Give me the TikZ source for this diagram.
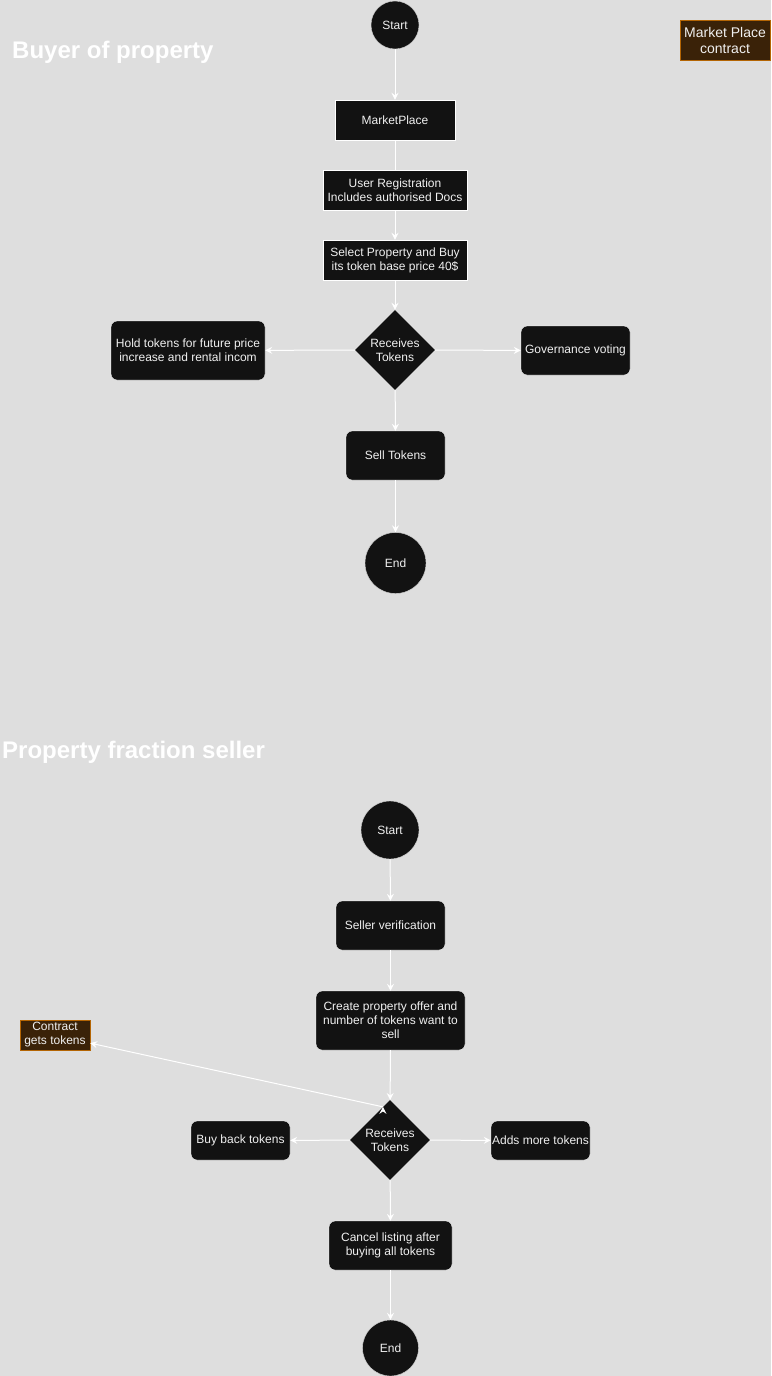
\documentclass[tikz,border=0pt]{standalone}
\usepackage{fontspec}
\setmainfont{Liberation Sans}
\usepackage{tikz}
\usetikzlibrary{shapes.geometric, positioning, arrows.meta}
\definecolor{canvas}{HTML}{DEDEDE}
\definecolor{ink}{HTML}{121212}
\definecolor{contractfill}{HTML}{3A2208}
\definecolor{contractline}{HTML}{B46504}
\tikzset{
->, % every connector is directed
>={Stealth[length=7pt, width=7pt, inset=2.5pt]}, % arrow heads
every node/.style={font=\fontsize{12}{14}\selectfont, text=white!94!black, align=center}, % small white text everywhere
terminal/.style={circle, draw=white!85!black, fill=ink, inner sep=0pt}, % start and end
plainbox/.style={rectangle, draw=white, fill=ink, inner sep=0pt, minimum height=40pt}, % square steps
roundbox/.style={plainbox, rounded corners=6pt}, % rounded steps
decision/.style={diamond, draw=none, fill=ink, inner sep=0pt, minimum size=80pt}, % receives tokens
contract/.style={rectangle, draw=contractline, fill=contractfill, inner sep=0pt}, % contract notes
heading/.style={font=\fontsize{24}{28}\selectfont\bfseries, text=white, anchor=west, inner sep=0pt}, % section titles
}

\begin{document}
\begin{tikzpicture}[x=1pt, y=-1pt]
    \fill[canvas, -] (0,0) rectangle (771,1376);
    \useasboundingbox (0,0) rectangle (771,1376);

    % buyer
    \node[heading] (buyer) at (12,52) {Buyer of property};
    \node[contract, minimum width=90pt, minimum height=40pt, font=\fontsize{14}{16}\selectfont] (mpcontract) at (725,40) {Market Place\\contract};
    \node[terminal, minimum size=48pt] (start1) at (395,25) {Start};
    \node[plainbox, minimum width=120pt] (market) at (395,120) {MarketPlace};
    \node[plainbox, minimum width=144pt] (register) at (395,190) {User Registration\\Includes authorised Docs};
    \node[plainbox, minimum width=144pt] (select) at (395,260) {Select Property and Buy\\its token base price 40\$};
    \node[decision] (receive1) at (395,350) {Receives\\Tokens};
    \node[roundbox, minimum width=154pt, minimum height=59pt] (hold) at (188,350.5) {Hold tokens for future price\\increase and rental incom};
    \node[roundbox, minimum width=109pt, minimum height=49pt] (govern) at (575.5,350.5) {Governance voting};
    \node[roundbox, minimum width=99pt, minimum height=49pt] (sell) at (395.5,455.5) {Sell Tokens};
    \node[terminal, minimum size=61pt] (end1) at (395.5,563) {End};

    % seller
    \node[heading] (seller) at (2,752) {Property fraction seller};
    \node[terminal, minimum size=58pt] (start2) at (390,830) {Start};
    \node[roundbox, minimum width=109pt, minimum height=49pt] (verify) at (390.5,925.5) {Seller verification};
    \node[roundbox, minimum width=149pt, minimum height=59pt] (offer) at (390.5,1020.5) {Create property offer and\\number of tokens want to\\sell};
    \node[decision] (receive2) at (390,1140) {Receives\\Tokens};
    \node[roundbox, minimum width=99pt, minimum height=39pt] (buyback) at (240.5,1140.5) {Buy back tokens};
    \node[roundbox, minimum width=99pt, minimum height=39pt] (addmore) at (540.5,1140.5) {Adds more tokens};
    \node[roundbox, minimum width=123pt, minimum height=49pt] (cancel) at (390.5,1245.5) {Cancel listing after\\buying all tokens};
    \node[terminal, minimum size=56pt] (end2) at (390.5,1348) {End};
    \node[contract, minimum width=70pt, minimum height=30pt] (gets) at (55,1035) {Contract\\gets tokens};

    \draw[white, line width=1pt]
    (start1) edge (market)
    (market) edge[-] (register)
    (register) edge (select)
    (select) edge (receive1)
    (receive1) edge (hold)
    (receive1) edge (govern)
    (receive1) edge (sell)
    (sell) edge (end1)
    (start2) edge (verify)
    (verify) edge (offer)
    (offer) edge (receive2)
    (receive2.102) edge (gets.-13)
    (receive2) edge (buyback)
    (receive2) edge (addmore)
    (receive2) edge (cancel)
    (cancel) edge (end2);
\end{tikzpicture}
\end{document}
